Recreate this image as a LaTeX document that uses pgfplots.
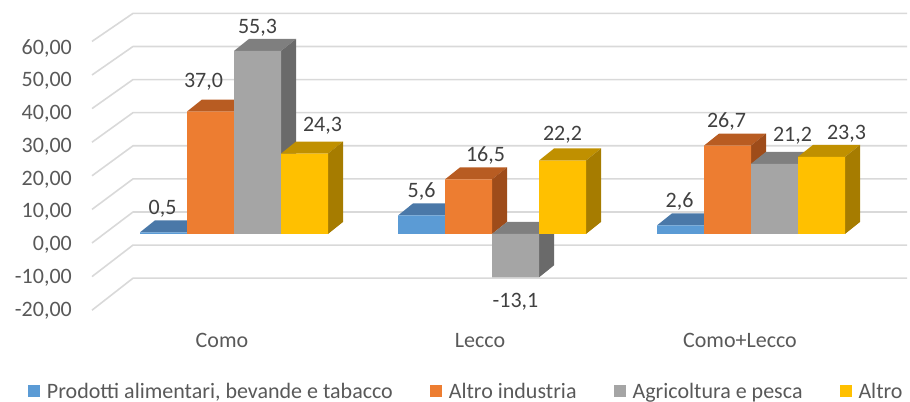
\documentclass[border=0pt]{standalone}
\usepackage{pgfplots}
\pgfplotsset{compat=1.18}
\usepackage{pgfplotstable}
\usepackage{fontspec}
\setmainfont{Carlito}

\definecolor{cblue}{HTML}{5B9BD5}
\definecolor{cblueT}{HTML}{4A78A8}
\definecolor{cblueS}{HTML}{3F6890}
\definecolor{corange}{HTML}{ED7D31}
\definecolor{corangeT}{HTML}{B85C22}
\definecolor{corangeS}{HTML}{9E4C1A}
\definecolor{cgray}{HTML}{A5A5A5}
\definecolor{cgrayT}{HTML}{7F7F7F}
\definecolor{cgrayS}{HTML}{6A6A6A}
\definecolor{cyellow}{HTML}{FFC000}
\definecolor{cyellowT}{HTML}{C09000}
\definecolor{cyellowS}{HTML}{A67C00}
\definecolor{gridc}{HTML}{D9D9D9}
\definecolor{tickc}{HTML}{595959}
\definecolor{labc}{HTML}{404040}

\newcommand\fs{\fontsize{22bp}{26bp}\selectfont}

% 3D top and right side of a bar: #1 centre x, #2 value, #3 top colour, #4 side colour
\newcommand\cube[4]{%
 \pgfmathsetmacro\cubXa{#1-23.5}%
 \pgfmathsetmacro\cubXb{#1+23.5}%
 \pgfmathsetmacro\cubXc{#1+38.5}%
 \pgfmathsetmacro\cubXd{#1-8.5}%
 \pgfmathsetmacro\cubYt{max(#2,0)}%
 \pgfmathsetmacro\cubYtb{max(#2,0)+3.63}%
 \pgfmathsetmacro\cubYb{min(#2,0)}%
 \pgfmathsetmacro\cubYbb{min(#2,0)+3.63}%
 \edef\cubtemp{\noexpand\addplot[fill=#3,draw=none,forget plot] coordinates {(\cubXa,\cubYt) (\cubXb,\cubYt) (\cubXc,\cubYtb) (\cubXd,\cubYtb)};%
  \noexpand\addplot[fill=#4,draw=none,forget plot] coordinates {(\cubXb,\cubYb) (\cubXc,\cubYbb) (\cubXc,\cubYtb) (\cubXb,\cubYt)};}%
 \cubtemp}

% gridline on side wall and back wall for value #1
\newcommand\gline[1]{%
 \pgfmathsetmacro\glYa{(-9+3.36*#1)/3.31}%
 \pgfmathsetmacro\glYb{#1+6.65}%
 \edef\gltemp{\noexpand\addplot[gridc, line width=1.6bp, line join=round, forget plot] coordinates {(92,\glYa) (133,\glYb) (907,\glYb)};}%
 \gltemp}

\pgfplotstableread{
x y lx ly
163.5 0.5 -1 0
421.5 5.6 0 0
680.5 2.6 -1 0
}\tblue
\pgfplotstableread{
x y lx ly
210.5 37.0 -7 6
468.5 16.5 17 0
727.5 26.7 -1 0
}\torange
\pgfplotstableread{
x y lx ly
257.5 55.3 0 -1
515.5 -13.1 0 0
774.5 21.2 18 4
}\tgray
\pgfplotstableread{
x y lx ly
304.5 24.3 18 3.5
562.5 22.2 0 1.5
821.5 23.3 25 -1
}\tyellow

\pgfplotsset{
 mybar/.style={ybar, bar width=47, bar shift=0pt, draw=none, fill=#1,
   nodes near coords, nodes near coords align={vertical},
   visualization depends on={\thisrow{lx}\as\lx},
   visualization depends on={\thisrow{ly}\as\ly},
   every node near coord/.append style={font=\fs, text=labc, inner xsep=0pt, inner ysep=15.3bp, xshift=\lx bp, yshift=\ly bp},
   legend image code/.code={\fill[##1] (0bp,-6bp) rectangle (12bp,6bp);}},
}

\begin{document}
\begin{tikzpicture}
\useasboundingbox (0,0) rectangle (910bp,402bp);
\begin{axis}[
 at={(72bp,85.25bp)}, anchor=south west,
 x=1bp, y=3.31bp,
 xmin=72, xmax=910, ymin=-25, ymax=70.69,
 clip=false,
 axis line style={draw=none},
 tick style={draw=none},
 major tick length=0pt,
 xtick={222,480,740},
 xticklabels={Como,Lecco,Como+Lecco},
 ytick={-23.14,-13.23,-3.32,6.59,16.50,26.40,36.31,46.22,56.13},
 yticklabels={{-20,00},{-10,00},{0,00},{10,00},{20,00},{30,00},{40,00},{50,00},{60,00}},
 ticklabel style={font=\fs, text=tickc, inner sep=0pt},
 xticklabel style={anchor=north, yshift=-16.25bp},
 yticklabel style={anchor=east},
 /pgf/number format/use comma,
 /pgf/number format/fixed,
 /pgf/number format/fixed zerofill,
 /pgf/number format/precision=1,
 /pgf/number format/assume math mode=true,
 legend columns=4,
 legend style={draw=none, fill=none, inner sep=0pt, outer sep=0pt,
   at={(axis cs:28,-47.5)}, anchor=west, font=\fs, text=tickc,
   nodes={inner sep=0pt},
   /tikz/every odd column/.append style={column sep=7bp},
   /tikz/every even column/.append style={column sep=37bp}},
]
\gline{-20}\gline{-10}\gline{0}\gline{10}\gline{20}\gline{30}\gline{40}\gline{50}\gline{60}

\cube{163.5}{0.5}{cblueT}{cblueS}
\cube{421.5}{5.6}{cblueT}{cblueS}
\cube{680.5}{2.6}{cblueT}{cblueS}
\addplot[mybar=cblue] table[x=x,y=y] {\tblue};
\addlegendentry{Prodotti alimentari, bevande e tabacco}

\cube{210.5}{37.0}{corangeT}{corangeS}
\cube{468.5}{16.5}{corangeT}{corangeS}
\cube{727.5}{26.7}{corangeT}{corangeS}
\addplot[mybar=corange] table[x=x,y=y] {\torange};
\addlegendentry{Altro industria}

\cube{257.5}{55.3}{cgrayT}{cgrayS}
\cube{515.5}{-13.1}{cgrayT}{cgrayS}
\cube{774.5}{21.2}{cgrayT}{cgrayS}
\addplot[mybar=cgray] table[x=x,y=y] {\tgray};
\addlegendentry{Agricoltura e pesca}

\cube{304.5}{24.3}{cyellowT}{cyellowS}
\cube{562.5}{22.2}{cyellowT}{cyellowS}
\cube{821.5}{23.3}{cyellowT}{cyellowS}
\addplot[mybar=cyellow] table[x=x,y=y] {\tyellow};
\addlegendentry{Altro}
\end{axis}
\end{tikzpicture}
\end{document}
